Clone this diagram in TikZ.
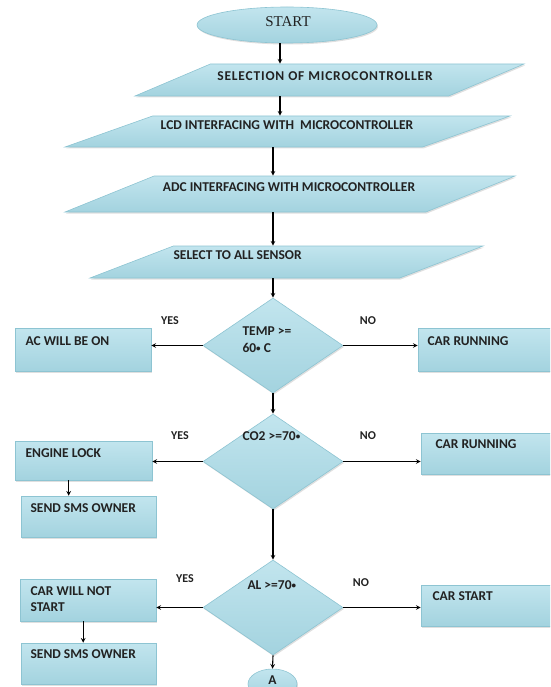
\documentclass[tikz,border=0pt]{standalone}
\usepackage{fontspec}
\setmainfont{Carlito}
\newfontfamily\startfont{Liberation Serif}
\usetikzlibrary{shapes.geometric,shadows}

\definecolor{flowlight}{HTML}{E0F2F7}
\definecolor{flowmid}{HTML}{C2E5EE}
\definecolor{flowdark}{HTML}{A3D3DF}
\definecolor{flowedge}{HTML}{8DC4D2}
\definecolor{textdark}{HTML}{222222}

\newcommand{\smalldot}{\raisebox{1pt}{\fontsize{9}{9}\selectfont •}}

\begin{document}
\begin{tikzpicture}[%
    x=1pt, y=-1pt,
    >=stealth,
    line width=1.1pt,
    flow/.style={draw=flowedge, line width=0.6pt, inner sep=2pt,
      top color=flowmid, middle color=flowlight, bottom color=flowdark,
      drop shadow={shadow xshift=1pt, shadow yshift=-1.5pt, opacity=.25}},
    io/.style={flow, trapezium, trapezium stretches body=true,
      text depth=0pt, text height=#1-4pt},
    decision/.style={flow, diamond, minimum width=140pt, minimum height=95pt},
    process/.style={flow, rectangle},
    term/.style={flow, ellipse},
    txt/.style={inner sep=0pt, text=textdark,
      font=\fontsize{13.5}{16}\selectfont\bfseries},
    lbl/.style={inner sep=0pt, text=textdark,
      font=\fontsize{12}{14}\selectfont\bfseries},
  ]
    \useasboundingbox (0,0) rectangle (550,687);
    \clip (0,0) rectangle (550,687);

    % main column
    \node[term, minimum width=180pt, minimum height=36pt] (start) at (287,25) {};
    \node[io=32pt, trapezium left angle=23, trapezium right angle=157,
      minimum width=389pt] (sel) at (329.5,80) {};
    \node[io=31pt, trapezium left angle=19.5, trapezium right angle=160.5,
      minimum width=445pt] (lcd) at (287.5,131.5) {};
    \node[io=36pt, trapezium left angle=22, trapezium right angle=158,
      minimum width=450pt] (adc) at (290,194) {};
    \node[io=32pt, trapezium left angle=21, trapezium right angle=159,
      minimum width=393pt] (sen) at (286.5,262) {};
    \node[decision] (temp) at (273,345.5) {};
    \node[decision] (co2)  at (273,461.5) {};
    \node[decision] (al)   at (273,607.5) {};
    \node[term, minimum width=49pt, minimum height=30pt] (aend) at (272.5,684) {};

    % side boxes
    \node[process, minimum width=136pt, minimum height=43pt] (ac)    at (83,349.5) {};
    \node[process, minimum width=144pt, minimum height=43pt] (run1)  at (490,349.5) {};
    \node[process, minimum width=137pt, minimum height=39pt] (eng)   at (83.5,460.5) {};
    \node[process, minimum width=135pt, minimum height=41pt] (sms1)  at (88.5,516.5) {};
    \node[process, minimum width=141pt, minimum height=41pt] (run2)  at (491.5,453.5) {};
    \node[process, minimum width=136pt, minimum height=42pt] (notst) at (88,600) {};
    \node[process, minimum width=141pt, minimum height=41pt] (carst) at (491.5,605.5) {};
    \node[process, minimum width=135pt, minimum height=41pt] (sms2)  at (88.5,663.5) {};

    % texts
    \node[text=textdark, font=\startfont\fontsize{15}{17}\selectfont] (start-t) at (288,22) {START};
    \node[txt, font=\fontsize{13.5}{16}\selectfont\bfseries\addfontfeature{LetterSpace=6}] (sel-t) at (325,76) {SELECTION OF MICROCONTROLLER};
    \node[txt] (lcd-t) at (287,125) {LCD INTERFACING WITH~ MICROCONTROLLER};
    \node[txt] (adc-t) at (289,187) {ADC INTERFACING WITH MICROCONTROLLER};
    \node[txt, anchor=west] (sen-t) at (173,255) {SELECT TO ALL SENSOR};
    \node[txt, anchor=west] (temp-t1) at (242,331) {TEMP >=};
    \node[txt, anchor=west] (temp-t2) at (242,348) {60\smalldot\ C};
    \node[txt, anchor=west] (co2-t) at (242,436) {CO2 >=70\smalldot};
    \node[txt, anchor=west] (al-t) at (247,585) {AL >=70\smalldot};
    \node[txt] (aend-t) at (272.5,680) {A};
    \node[txt, anchor=west] (ac-t) at (25,341) {AC WILL BE ON};
    \node[txt, anchor=west] (run1-t) at (427,341) {CAR RUNNING};
    \node[txt, anchor=west] (eng-t) at (25,453) {ENGINE LOCK};
    \node[txt, anchor=west] (sms1-t) at (30,508) {SEND SMS OWNER};
    \node[txt, anchor=west] (run2-t) at (435,444) {CAR RUNNING};
    \node[txt, anchor=west] (notst-t1) at (30,591) {CAR WILL NOT};
    \node[txt, anchor=west] (notst-t2) at (30,607) {START};
    \node[txt, anchor=west] (carst-t) at (432,596) {CAR START};
    \node[txt, anchor=west] (sms2-t) at (30,654) {SEND SMS OWNER};

    % yes / no
    \node[lbl] (yes1) at (170,321) {YES};
    \node[lbl] (no1)  at (368,321) {NO};
    \node[lbl] (yes2) at (180,436) {YES};
    \node[lbl] (no2)  at (368,436) {NO};
    \node[lbl] (yes3) at (185,579) {YES};
    \node[lbl] (no3)  at (361,583) {NO};

    \coordinate (ax1) at (280,0);
    \coordinate (ax2) at (273,0);

    \path[->]
    (start.south -| ax1) edge (sel.north -| ax1)
    (sel.south -| ax1) edge (lcd.north -| ax1)
    (lcd.south -| ax2) edge (adc.north -| ax2)
    (adc.south -| ax2) edge (sen.north -| ax2)
    (sen.south -| ax2) edge (temp.north)
    (temp.south) edge (co2.north)
    (co2.south) edge (al.north)
    (al.south) edge (aend.north)
    (temp.west) edge (temp.west -| ac.east)
    (temp.east) edge (temp.east -| run1.west)
    (co2.west) edge (co2.west -| eng.east)
    (co2.east) edge (co2.east -| run2.west)
    (al.west) edge (al.west -| notst.east)
    (al.east) edge (al.east -| carst.west)
    ([xshift=54pt]eng.south west) edge ([xshift=54pt]eng.south west |- sms1.north)
    ([xshift=63.5pt]notst.south west) edge ([xshift=63.5pt]notst.south west |- sms2.north)
    ;
\end{tikzpicture}
\end{document}
